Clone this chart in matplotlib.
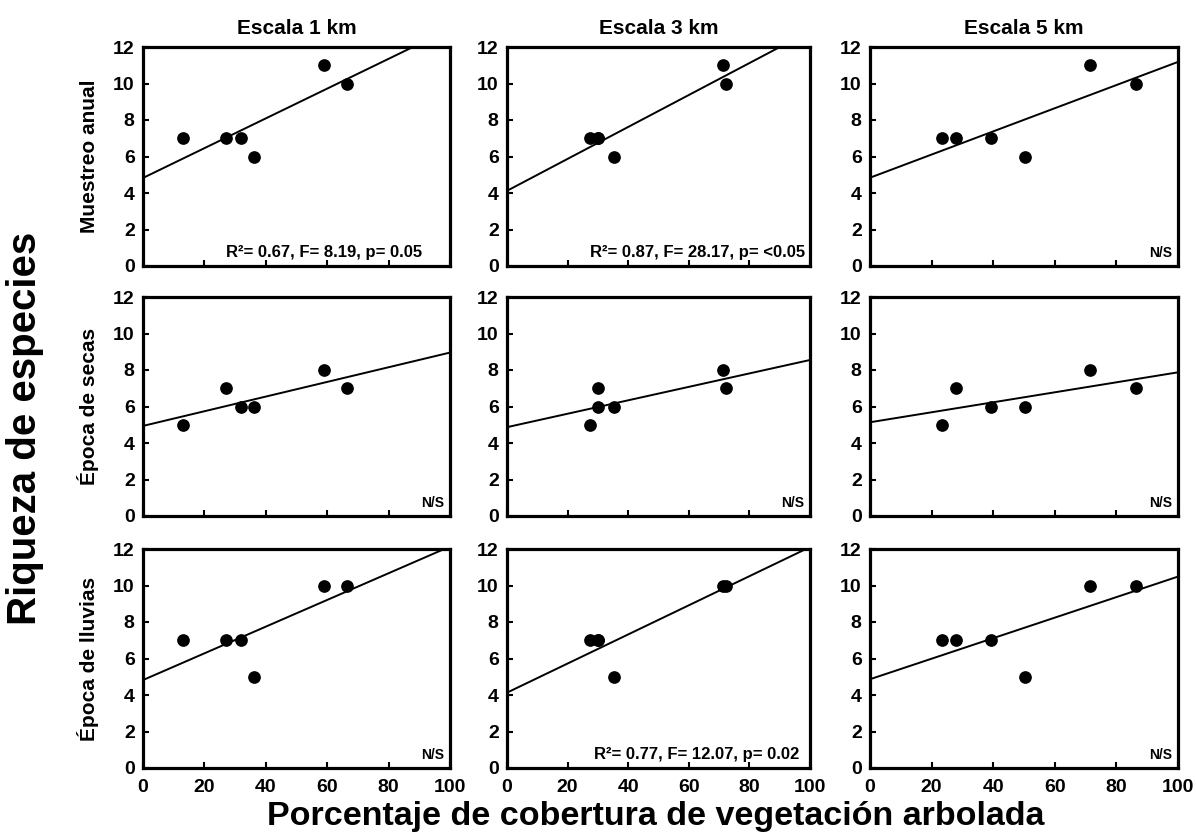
import numpy as np
import matplotlib
matplotlib.use("Agg")
import matplotlib.pyplot as plt

plt.rcParams['font.family'] = ['Liberation Sans', 'DejaVu Sans']
plt.rcParams['font.weight'] = 'bold'

# porcentaje de cobertura arbolada por escala
x_1km = [13, 27, 32, 36, 59, 66.5]
x_3km = [27.3, 30, 30, 35.2, 71.2, 72.4]
x_5km = [23.5, 28, 39.3, 50.4, 71.5, 86.3]

# riqueza de especies por temporada
y_anual = [7, 7, 7, 6, 11, 10]
y_secas = [5, 7, 6, 6, 8, 7]
y_lluvias = [7, 7, 7, 5, 10, 10]

col_titles = ["Escala 1 km", "Escala 3 km", "Escala 5 km"]
row_titles = ["Muestreo anual", "Época de secas", "Época de lluvias"]

stats = [
    ["R²= 0.67, F= 8.19, p= 0.05", "R²= 0.87, F= 28.17, p= <0.05", "N/S"],
    ["N/S", "N/S", "N/S"],
    ["N/S", "R²= 0.77, F= 12.07, p= 0.02", "N/S"],
]

xs = [x_1km, x_3km, x_5km]
ys = [y_anual, y_secas, y_lluvias]

fig = plt.figure(figsize=(11.96, 8.39), dpi=100)
W, H = 1196, 839
lefts = [143, 507, 870]
widths = [307, 303, 308]
tops = [47, 297, 549]
ah = 219
# posicion horizontal del texto de estadisticos
txt_x = [[0.91, 0.985, 0.98], [0.98, 0.98, 0.98], [0.98, 0.965, 0.98]]

for i in range(3):
    for j in range(3):
        ax = fig.add_axes([lefts[j] / W, 1 - (tops[i] + ah) / H, widths[j] / W, ah / H])
        x = np.array(xs[j])
        y = np.array(ys[i])
        m, b = np.polyfit(x, y, 1)
        xl = np.array([0, 100])
        ax.plot(xl, m * xl + b, color='black', lw=1.4)
        ax.scatter(x, y, s=66, color='black', zorder=3)
        ax.set_xlim(0, 100)
        ax.set_ylim(0, 12)
        ax.set_xticks(range(0, 101, 20))
        ax.set_yticks(range(0, 13, 2))
        ax.tick_params(direction='in', length=4, width=1.5, labelsize=14)
        ax.tick_params(axis='x', pad=8)
        ax.tick_params(axis='y', pad=6)
        for lab in ax.get_xticklabels() + ax.get_yticklabels():
            lab.set_fontweight('bold')
        if i < 2:
            ax.set_xticklabels([])
        for s in ax.spines.values():
            s.set_linewidth(2.3)
        txt = stats[i][j]
        fs = 10 if txt == "N/S" else 12
        ax.text(txt_x[i][j], 0.04, txt, transform=ax.transAxes, ha='right', va='baseline',
                fontsize=fs, fontweight='bold')
        if i == 0:
            ax.set_title(col_titles[j], fontsize=15, fontweight='bold', pad=9)
        if j == 0:
            ax.set_ylabel(row_titles[i], fontsize=15, fontweight='bold', labelpad=10)

fig.text(25 / W, 1 - 428 / H, "Riqueza de especies", rotation=90, ha='center', va='center',
         fontsize=29, fontweight='bold')
fig.text(656 / W, 1 - 816 / H, "Porcentaje de cobertura de vegetación arbolada", ha='center',
         va='center', fontsize=24.5, fontweight='bold')

fig.savefig("out.png", dpi=100, facecolor='white')
